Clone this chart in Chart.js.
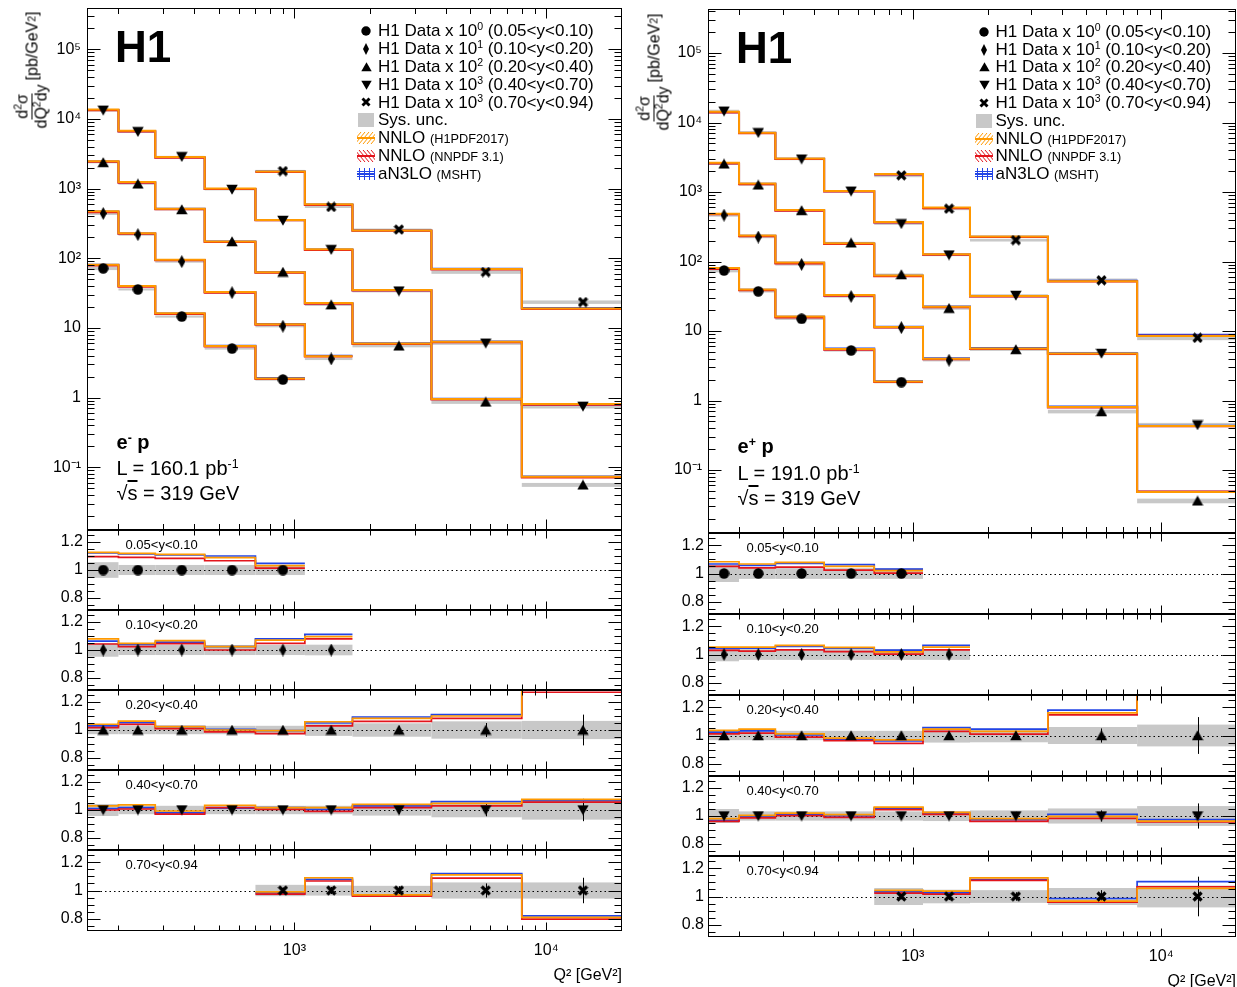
<!DOCTYPE html>
<html>
<head>
<meta charset="utf-8">
<title>H1 NC DIS double differential cross sections</title>
<script src="https://cdn.jsdelivr.net/npm/chart.js@4.4.1/dist/chart.umd.min.js"></script>
<style>
  html, body { margin: 0; padding: 0; background: #fff; }
  body { position: relative; width: 1237px; height: 987px; overflow: hidden;
         font-family: "Liberation Sans", Arial, Helvetica, sans-serif; color: #000; }
  canvas { position: absolute; }
  .t { position: absolute; white-space: nowrap; line-height: 1; }
  .t sup { font-size: 62%; vertical-align: 0.6em; line-height: 0; }
  .t .small { font-size: 75%; }
  .ytitle { position: absolute; white-space: nowrap; font-size: 16px; line-height: 1;
            display: flex; align-items: center; transform: rotate(-90deg); }
  .frac { display: inline-flex; flex-direction: column; align-items: center; margin-right: 3px; }
  .frac .num { border-bottom: 1px solid #000; padding: 0 1px 1px 1px; }
  .frac .den { padding: 1px 1px 0 1px; }
  .ytitle sup { font-size: 65%; vertical-align: 0.55em; line-height: 0; }
</style>
</head>
<body>
<script>
Chart.defaults.font.family = '"Liberation Sans", Arial, Helvetica, sans-serif';
Chart.defaults.color = '#000';

// Q2 binning shared by both beams
var Q2_EDGES = [150, 200, 280, 440, 700, 1100, 1700, 3500, 8000, 20000];
var Q2_POINTS = [174, 239, 357, 565, 900, 1400, 2600, 5750, 14000];
var Y_BINS = ["0.05<y<0.10", "0.10<y<0.20", "0.20<y<0.40", "0.40<y<0.70", "0.70<y<0.94"];
var Y_SCALE_POW = [0, 1, 2, 3, 3];
var FIRST_BIN = [0, 0, 0, 0, 4];
var MARKERS = ["circle", "diamond", "up", "down", "cross"];

// tick labels
var MAIN_Y_TICKS = [0.1, 1, 10, 100, 1000, 10000, 100000];
var MAIN_Y_LABELS = ["10\u207B\u00B9", "1", "10", "10\u00B2", "10\u00B3", "10\u2074", "10\u2075"];
var RATIO_Y_TICKS = [0.8, 1, 1.2];
var RATIO_Y_LABELS = ["0.8", "1", "1.2"];
var X_TICKS = [1000, 10000];
var X_LABELS = ["10\u00B3", "10\u2074"];

// ---- e-p, L = 160.1 pb-1 (data as plotted, i.e. times 10^n) ----
var emData = [
  [71.8, 35.8, 14.6, 5.07, 1.82],
  [440, 219, 89.7, 32.1, 10.6, 3.6],
  [2382, 1172, 502, 174, 63.5, 21.6, 5.54, 0.868, 0.056],
  [13340, 6560, 2870, 973, 349, 133, 33.8, 6.04, 0.75],
  [1786, 547, 259, 63.5, 23.5]
];
var emSys = [
  [0.056, 0.036, 0.036, 0.036, 0.036],
  [0.048, 0.036, 0.036, 0.036, 0.036, 0.038],
  [0.03, 0.03, 0.03, 0.03, 0.03, 0.042, 0.048, 0.062, 0.065],
  [0.043, 0.03, 0.03, 0.03, 0.03, 0.03, 0.04, 0.052, 0.069],
  [0.04, 0.036, 0.033, 0.057, 0.057]
];
var emStat = [
  [0.01, 0.01, 0.01, 0.012, 0.015],
  [0.01, 0.01, 0.01, 0.012, 0.015, 0.02],
  [0.01, 0.01, 0.01, 0.012, 0.015, 0.02, 0.03, 0.05, 0.11],
  [0.01, 0.01, 0.01, 0.012, 0.015, 0.02, 0.03, 0.045, 0.08],
  [0.02, 0.025, 0.03, 0.05, 0.09]
];
var emH1pdf = [
  [1.126, 1.119, 1.112, 1.088, 1.031],
  [1.079, 1.048, 1.067, 1.024, 1.071, 1.095],
  [1.041, 1.064, 1.024, 1.0, 0.995, 1.059, 1.083, 1.10, 1.31],
  [1.029, 1.036, 0.993, 1.034, 1.017, 1.017, 1.04, 1.048, 1.076],
  [0.99, 1.09, 0.969, 1.11, 0.81]
];
var emNnpdf = [
  [1.095, 1.09, 1.083, 1.066, 1.014],
  [1.043, 1.024, 1.045, 1.0, 1.048, 1.079],
  [1.017, 1.04, 1.01, 0.987, 0.974, 1.03, 1.062, 1.083, 1.27],
  [1.0, 1.007, 0.971, 1.017, 1.004, 0.99, 1.017, 1.03, 1.057],
  [0.974, 1.067, 0.96, 1.088, 0.798]
];
var emMsht = [
  [1.122, 1.115, 1.108, 1.10, 1.048],
  [1.064, 1.04, 1.057, 1.024, 1.079, 1.112],
  [1.03, 1.052, 1.024, 1.005, 0.995, 1.05, 1.093, 1.11, 1.32],
  [1.01, 1.017, 0.98, 1.014, 1.017, 1.005, 1.03, 1.06, 1.067],
  [0.983, 1.079, 0.969, 1.119, 0.821]
];

// ---- e+p, L = 191.0 pb-1 ----
var epData = [
  [74.3, 37.2, 15.0, 5.26, 1.84],
  [464, 225, 90.8, 31.4, 11.2, 3.80],
  [2541, 1269, 544, 186, 65.0, 21.3, 5.44, 0.695, 0.036],
  [14530, 7110, 2970, 1026, 348, 124, 32.5, 4.75, 0.445],
  [1738, 576, 203, 53.7, 8.0]
];
var epSys = [
  [0.06, 0.038, 0.038, 0.038, 0.038],
  [0.048, 0.038, 0.038, 0.038, 0.038, 0.038],
  [0.033, 0.033, 0.033, 0.033, 0.033, 0.05, 0.048, 0.06, 0.077],
  [0.05, 0.033, 0.033, 0.033, 0.033, 0.036, 0.04, 0.054, 0.071],
  [0.06, 0.048, 0.045, 0.06, 0.077]
];
var epStat = [
  [0.01, 0.01, 0.01, 0.012, 0.015],
  [0.01, 0.01, 0.01, 0.012, 0.015, 0.02],
  [0.01, 0.01, 0.01, 0.012, 0.015, 0.02, 0.03, 0.05, 0.13],
  [0.01, 0.01, 0.01, 0.012, 0.015, 0.02, 0.03, 0.04, 0.09],
  [0.02, 0.025, 0.03, 0.045, 0.14]
];
var epH1pdf = [
  [1.083, 1.067, 1.079, 1.05, 1.021],
  [1.052, 1.052, 1.064, 1.05, 1.019, 1.052],
  [1.036, 1.045, 1.012, 0.981, 0.969, 1.045, 1.029, 1.16, 1.34],
  [0.981, 1.005, 1.021, 1.01, 1.064, 1.026, 0.981, 0.998, 0.964],
  [1.043, 1.038, 1.131, 0.967, 1.057]
];
var epNnpdf = [
  [1.05, 1.04, 1.045, 1.024, 1.002],
  [1.029, 1.024, 1.033, 1.021, 1.002, 1.033],
  [1.012, 1.017, 0.988, 0.964, 0.945, 1.029, 1.01, 1.145, 1.36],
  [0.962, 0.986, 1.002, 0.99, 1.045, 1.012, 0.962, 0.983, 0.957],
  [1.024, 1.017, 1.114, 0.96, 1.069]
];
var epMsht = [
  [1.067, 1.057, 1.071, 1.062, 1.031],
  [1.043, 1.045, 1.057, 1.045, 1.031, 1.064],
  [1.024, 1.033, 1.005, 0.974, 0.962, 1.055, 1.045, 1.179, 1.35],
  [0.969, 0.998, 1.014, 1.0, 1.057, 1.021, 0.974, 1.012, 0.974],
  [1.033, 1.026, 1.12, 0.986, 1.105]
];

var ORANGE = '#ff9900', RED = '#e3141c', BLUE = '#2244e6', SYS_GREY = '#c8c8c8';
var AXIS_W = 87, X_AXIS_H = 54, RATIO_MIN = 0.714, RATIO_MAX = 1.286;

var COLUMNS = [
  { id: 'em', left: 87, right: 622, edges: [8, 530, 610, 690, 770, 850, 931],
    yMin: Math.pow(10, -1.9), yMax: Math.pow(10, 5.593),
    data: emData, sys: emSys, stat: emStat,
    models: [{ r: emH1pdf, c: ORANGE }, { r: emNnpdf, c: RED }, { r: emMsht, c: BLUE }],
    beam: 'e<sup>-</sup> p', lumi: 'L = 160.1 pb<sup>-1</sup>' },
  { id: 'ep', left: 708, right: 1236, edges: [9, 533, 614, 695, 776, 856, 937],
    yMin: Math.pow(10, -1.906), yMax: Math.pow(10, 5.633),
    data: epData, sys: epSys, stat: epStat,
    models: [{ r: epH1pdf, c: ORANGE }, { r: epNnpdf, c: RED }, { r: epMsht, c: BLUE }],
    beam: 'e<sup>+</sup> p', lumi: 'L = 191.0 pb<sup>-1</sup>' }
];

/* marker images, ROOT style */
function makeMarker(kind, s) {
  var dims = { circle: [11, 11], diamond: [7, 13], up: [12, 11], down: [12, 11], cross: [11, 11] }[kind];
  var w = Math.round(dims[0] * s), h = Math.round(dims[1] * s);
  var c = document.createElement('canvas');
  c.width = w; c.height = h;
  var g = c.getContext('2d');
  g.fillStyle = '#000'; g.strokeStyle = '#000';
  g.beginPath();
  if (kind === 'circle') { g.arc(w / 2, h / 2, w / 2 - 0.3, 0, Math.PI * 2); g.fill(); }
  else if (kind === 'diamond') { g.moveTo(w / 2, 0); g.lineTo(w, h / 2); g.lineTo(w / 2, h); g.lineTo(0, h / 2); g.closePath(); g.fill(); }
  else if (kind === 'up') { g.moveTo(w / 2, 0.3); g.lineTo(w - 0.3, h - 0.8); g.lineTo(0.3, h - 0.8); g.closePath(); g.fill(); }
  else if (kind === 'down') { g.moveTo(0.3, 0.8); g.lineTo(w - 0.3, 0.8); g.lineTo(w / 2, h - 0.3); g.closePath(); g.fill(); }
  else { g.lineWidth = 3.2 * s; g.lineCap = 'butt';
    g.moveTo(1.5, 1.5); g.lineTo(w - 1.5, h - 1.5); g.moveTo(w - 1.5, 1.5); g.lineTo(1.5, h - 1.5); g.stroke(); }
  return c;
}
var MARKER_IMG = MARKERS.map(function (k) { return makeMarker(k, 1); });

function stepPoints(first, vals) {
  var pts = [];
  for (var i = 0; i < vals.length; i++) {
    pts.push({ x: Q2_EDGES[first + i], y: vals[i] });
    pts.push({ x: Q2_EDGES[first + i + 1], y: vals[i] });
  }
  return pts;
}
function stepSet(pts, color, width) {
  return { data: pts, showLine: true, pointRadius: 0, borderColor: color, borderWidth: width,
           backgroundColor: color, fill: false, tension: 0, borderCapStyle: 'butt' };
}
function markerSet(pts, k) {
  return { data: pts, showLine: false, pointStyle: MARKER_IMG[k], pointRadius: 5 };
}

/* ticks in ROOT style: inside the frame, on all four sides */
function logTicks(lo, hi, major, minor) {
  var out = [];
  for (var e = Math.floor(Math.log10(lo)); e <= Math.ceil(Math.log10(hi)); e++) {
    for (var m = 1; m <= 9; m++) {
      var v = m * Math.pow(10, e);
      if (v > lo * 1.001 && v < hi * 0.999) out.push({ v: v, len: m === 1 ? major : minor });
    }
  }
  return out;
}
function ratioTicks() {
  var out = [];
  for (var i = 15; i <= 25; i++) {
    var v = i * 0.05;
    out.push({ v: v, len: (i % 4 === 0) ? 13 : 7 });
  }
  return out;
}
function noPad(s) { s.paddingTop = 0; s.paddingBottom = 0; s.paddingLeft = 0; s.paddingRight = 0; }

var DECO = {};
var decoPlugin = {
  id: 'deco',
  beforeDatasetsDraw: function (chart) {
    var o = DECO[chart.canvas.id];
    var ctx = chart.ctx, a = chart.chartArea, xs = chart.scales.x, ys = chart.scales.y;
    ctx.save();
    ctx.beginPath(); ctx.rect(a.left, a.top, a.right - a.left, a.bottom - a.top); ctx.clip();
    ctx.fillStyle = SYS_GREY;
    o.bands.forEach(function (b) {
      var x0 = xs.getPixelForValue(b.lo), x1 = xs.getPixelForValue(b.hi);
      var y0 = ys.getPixelForValue(b.top), y1 = ys.getPixelForValue(b.bot);
      ctx.fillRect(x0, y0, x1 - x0, Math.max(y1 - y0, 1.5));
    });
    if (o.ratio) {
      var yp = Math.round(ys.getPixelForValue(1)) + 0.5;
      ctx.strokeStyle = '#000'; ctx.lineWidth = 1; ctx.setLineDash([1.5, 3]);
      ctx.beginPath(); ctx.moveTo(a.left, yp); ctx.lineTo(a.right, yp); ctx.stroke();
      ctx.setLineDash([]);
    }
    ctx.strokeStyle = '#000'; ctx.lineWidth = 1;
    o.errs.forEach(function (e) {
      var x = Math.round(xs.getPixelForValue(e.x)) + 0.5;
      ctx.beginPath(); ctx.moveTo(x, ys.getPixelForValue(e.lo)); ctx.lineTo(x, ys.getPixelForValue(e.hi)); ctx.stroke();
    });
    ctx.restore();
  },
  afterDraw: function (chart) {
    var o = DECO[chart.canvas.id];
    var ctx = chart.ctx, a = chart.chartArea, xs = chart.scales.x, ys = chart.scales.y;
    var L = Math.round(a.left) + 0.5, R = Math.round(a.right) - 0.5;
    var T = Math.round(a.top) + 0.5, B = Math.round(a.bottom) - 0.5;
    ctx.save();
    ctx.strokeStyle = '#000'; ctx.lineWidth = 1;
    ctx.strokeRect(L, T, R - L, B - T);
    ctx.beginPath();
    o.yTicks.forEach(function (t) {
      var y = Math.round(ys.getPixelForValue(t.v)) + 0.5;
      ctx.moveTo(L, y); ctx.lineTo(L + t.len, y);
      ctx.moveTo(R, y); ctx.lineTo(R - t.len, y);
    });
    o.xTicks.forEach(function (t) {
      var x = Math.round(xs.getPixelForValue(t.v)) + 0.5;
      ctx.moveTo(x, T); ctx.lineTo(x, T + t.len);
      ctx.moveTo(x, B); ctx.lineTo(x, B - t.len);
    });
    ctx.stroke();
    ctx.restore();
  }
};
Chart.register(decoPlugin);

function addChart(id, col, panel, datasets, deco) {
  var isMain = panel === 0, isBottom = panel === 5;
  var top = col.edges[panel], bottom = col.edges[panel + 1];
  var padT = isMain ? top : 3, padB = isBottom ? 0 : 3;
  var cv = document.createElement('canvas');
  cv.id = id;
  cv.width = col.right - col.left + AXIS_W + 1;
  cv.height = bottom - top + padT + padB + (isBottom ? X_AXIS_H : 0);
  cv.style.left = (col.left - AXIS_W) + 'px';
  cv.style.top = (top - padT) + 'px';
  document.body.appendChild(cv);
  DECO[id] = deco;
  var yT = isMain ? MAIN_Y_TICKS : RATIO_Y_TICKS, yL = isMain ? MAIN_Y_LABELS : RATIO_Y_LABELS;
  new Chart(cv, {
    type: 'scatter',
    data: { datasets: datasets },
    options: {
      animation: false, responsive: false, events: [],
      layout: { autoPadding: false, padding: { top: padT, bottom: padB, left: 0, right: 1 } },
      plugins: { legend: { display: false }, tooltip: { enabled: false } },
      scales: {
        x: {
          type: 'logarithmic', min: 150, max: 20000, display: isBottom, position: 'bottom',
          afterFit: function (s) { s.height = isBottom ? X_AXIS_H : 0; noPad(s); },
          afterBuildTicks: function (s) { s.ticks = X_TICKS.map(function (v) { return { value: v }; }); },
          grid: { display: false, drawTicks: false }, border: { display: false },
          ticks: { autoSkip: false, maxRotation: 0, padding: 10, font: { size: 16 },
                   callback: function (v) { var i = X_TICKS.indexOf(v); return i < 0 ? '' : X_LABELS[i]; } },
          title: { display: isBottom, text: 'Q\u00B2 [GeV\u00B2]', align: 'end', font: { size: 16 },
                   padding: { top: 0, bottom: 0 } }
        },
        y: {
          type: isMain ? 'logarithmic' : 'linear',
          min: isMain ? col.yMin : RATIO_MIN, max: isMain ? col.yMax : RATIO_MAX,
          afterFit: function (s) { s.width = AXIS_W; noPad(s); },
          afterBuildTicks: function (s) { s.ticks = yT.map(function (v) { return { value: v }; }); },
          grid: { display: false, drawTicks: false }, border: { display: false },
          ticks: { autoSkip: false, padding: isMain ? 6 : 4, font: { size: 16 },
                   callback: function (v) { var i = yT.indexOf(v); return i < 0 ? '' : yL[i]; } }
        }
      }
    }
  });
}

function place(html, x, base, size, weight) {
  var d = document.createElement('div');
  d.className = 't';
  d.style.left = x + 'px';
  d.style.top = (base - 0.847 * size) + 'px';
  d.style.fontSize = size + 'px';
  if (weight) d.style.fontWeight = weight;
  d.innerHTML = html;
  document.body.appendChild(d);
  return d;
}
function placeIcon(c, cx, cy) {
  c.style.left = Math.round(cx - c.width / 2) + 'px';
  c.style.top = Math.round(cy - c.height / 2) + 'px';
  document.body.appendChild(c);
}
function makeBox(w, h, color) {
  var c = document.createElement('canvas'); c.width = w; c.height = h;
  var g = c.getContext('2d'); g.fillStyle = color; g.fillRect(0, 0, w, h);
  return c;
}
function makeHatchIcon(color, kind) {
  var c = document.createElement('canvas'); c.width = 18; c.height = 16;
  var g = c.getContext('2d');
  g.strokeStyle = color; g.lineWidth = 1; g.beginPath();
  var x;
  if (kind === 'grid') {
    for (x = 2; x < 18; x += 5) { g.moveTo(x + 0.5, 2); g.lineTo(x + 0.5, 14); }
    g.moveTo(0, 5.5); g.lineTo(18, 5.5); g.moveTo(0, 10.5); g.lineTo(18, 10.5);
  } else if (kind === 'fwd') {
    for (x = -10; x < 18; x += 4) { g.moveTo(x, 14); g.lineTo(x + 10, 2); }
  } else {
    for (x = 0; x < 28; x += 4) { g.moveTo(x, 14); g.lineTo(x - 10, 2); }
  }
  g.stroke();
  g.lineWidth = 2; g.beginPath(); g.moveTo(0, 8); g.lineTo(18, 8); g.stroke();
  return c;
}
function esc(s) { return s.replace(/</g, '&lt;'); }

COLUMNS.forEach(function (col, ci) {
  // main panel
  var ds = [], bands = [];
  col.data.forEach(function (vals, k) {
    var f = FIRST_BIN[k];
    ds.push(markerSet(vals.map(function (v, i) { return { x: Q2_POINTS[f + i], y: v }; }), k));
    vals.forEach(function (v, i) {
      var s = col.sys[k][i];
      bands.push({ lo: Q2_EDGES[f + i], hi: Q2_EDGES[f + i + 1], top: v * (1 + s), bot: v * (1 - s) });
    });
  });
  col.models.forEach(function (m) {
    col.data.forEach(function (vals, k) {
      ds.push(stepSet(stepPoints(FIRST_BIN[k], vals.map(function (v, i) { return v * m.r[k][i]; })), m.c, 2));
    });
  });
  addChart(col.id + 'main', col, 0, ds, {
    bands: bands, errs: [], ratio: false,
    yTicks: logTicks(col.yMin, col.yMax, 13, 7), xTicks: logTicks(150, 20000, 10, 5.5)
  });

  // ratio panels
  col.data.forEach(function (vals, k) {
    var f = FIRST_BIN[k];
    var rds = [markerSet(vals.map(function (v, i) { return { x: Q2_POINTS[f + i], y: 1 }; }), k)];
    col.models.forEach(function (m) { rds.push(stepSet(stepPoints(f, m.r[k]), m.c, 1.7)); });
    var rb = [], re = [];
    vals.forEach(function (v, i) {
      var s = col.sys[k][i], e = col.stat[k][i];
      rb.push({ lo: Q2_EDGES[f + i], hi: Q2_EDGES[f + i + 1], top: 1 + s, bot: 1 - s });
      re.push({ x: Q2_POINTS[f + i], lo: 1 - e, hi: 1 + e });
    });
    addChart(col.id + 'r' + k, col, k + 1, rds, {
      bands: rb, errs: re, ratio: true,
      yTicks: ratioTicks(), xTicks: logTicks(150, 20000, 8, 5)
    });
    place(esc(Y_BINS[k]), col.left + 38.5, col.edges[k + 1] + 19.5, 13);
  });

  // annotations
  var dy = ci === 0 ? 0 : 1;
  place('H1', col.left + 28, col.edges[0] + 54, 44, 'bold');
  place(col.beam, col.left + 29.5, 449 + 4 * ci, 20, 'bold');
  place(col.lumi, col.left + 29.5, 475 + 4.5 * ci, 20);
  place('\u221A<span style="text-decoration:overline">s</span> = 319 GeV', col.left + 29.5, 500 + 4.5 * ci, 20);

  // legend
  var lx = ci === 0 ? 378 : 995.5, mx = ci === 0 ? 366 : 984;
  var base0 = 36.7 + dy * 0.5, step = 17.8;
  Y_BINS.forEach(function (b, k) {
    var base = base0 + step * k;
    place('H1 Data x 10<sup>' + Y_SCALE_POW[k] + '</sup> (' + esc(b) + ')', lx, base, 17);
    placeIcon(makeMarker(MARKERS[k], 0.9), mx, base - 5.5);
  });
  var b5 = base0 + step * 5;
  place('Sys. unc.', lx, b5, 17);
  placeIcon(makeBox(16, 14, SYS_GREY), mx - 0.5, b5 - 5.5);
  var mlab = [['NNLO', '(H1PDF2017)', ORANGE, 'fwd'], ['NNLO', '(NNPDF 3.1)', RED, 'back'], ['aN3LO', '(MSHT)', BLUE, 'grid']];
  mlab.forEach(function (m, j) {
    var base = base0 + step * (6 + j);
    place(m[0] + ' <span class="small">' + m[1] + '</span>', lx, base, 17);
    placeIcon(makeHatchIcon(m[2], m[3]), mx - 0.5, base - 5.5);
  });

  // y axis title
  var yt = document.createElement('div');
  yt.className = 'ytitle';
  yt.innerHTML = '<span class="frac"><span class="num">d<sup>2</sup>\u03C3</span>' +
                 '<span class="den">dQ<sup>2</sup>dy</span></span>[pb/GeV<sup>2</sup>]';
  document.body.appendChild(yt);
  var cx = ci === 0 ? 32 : 654, cy = ci === 0 ? 70 : 72;
  yt.style.left = (cx - yt.offsetWidth / 2) + 'px';
  yt.style.top = (cy - yt.offsetHeight / 2) + 'px';
});
</script>
</body>
</html>
